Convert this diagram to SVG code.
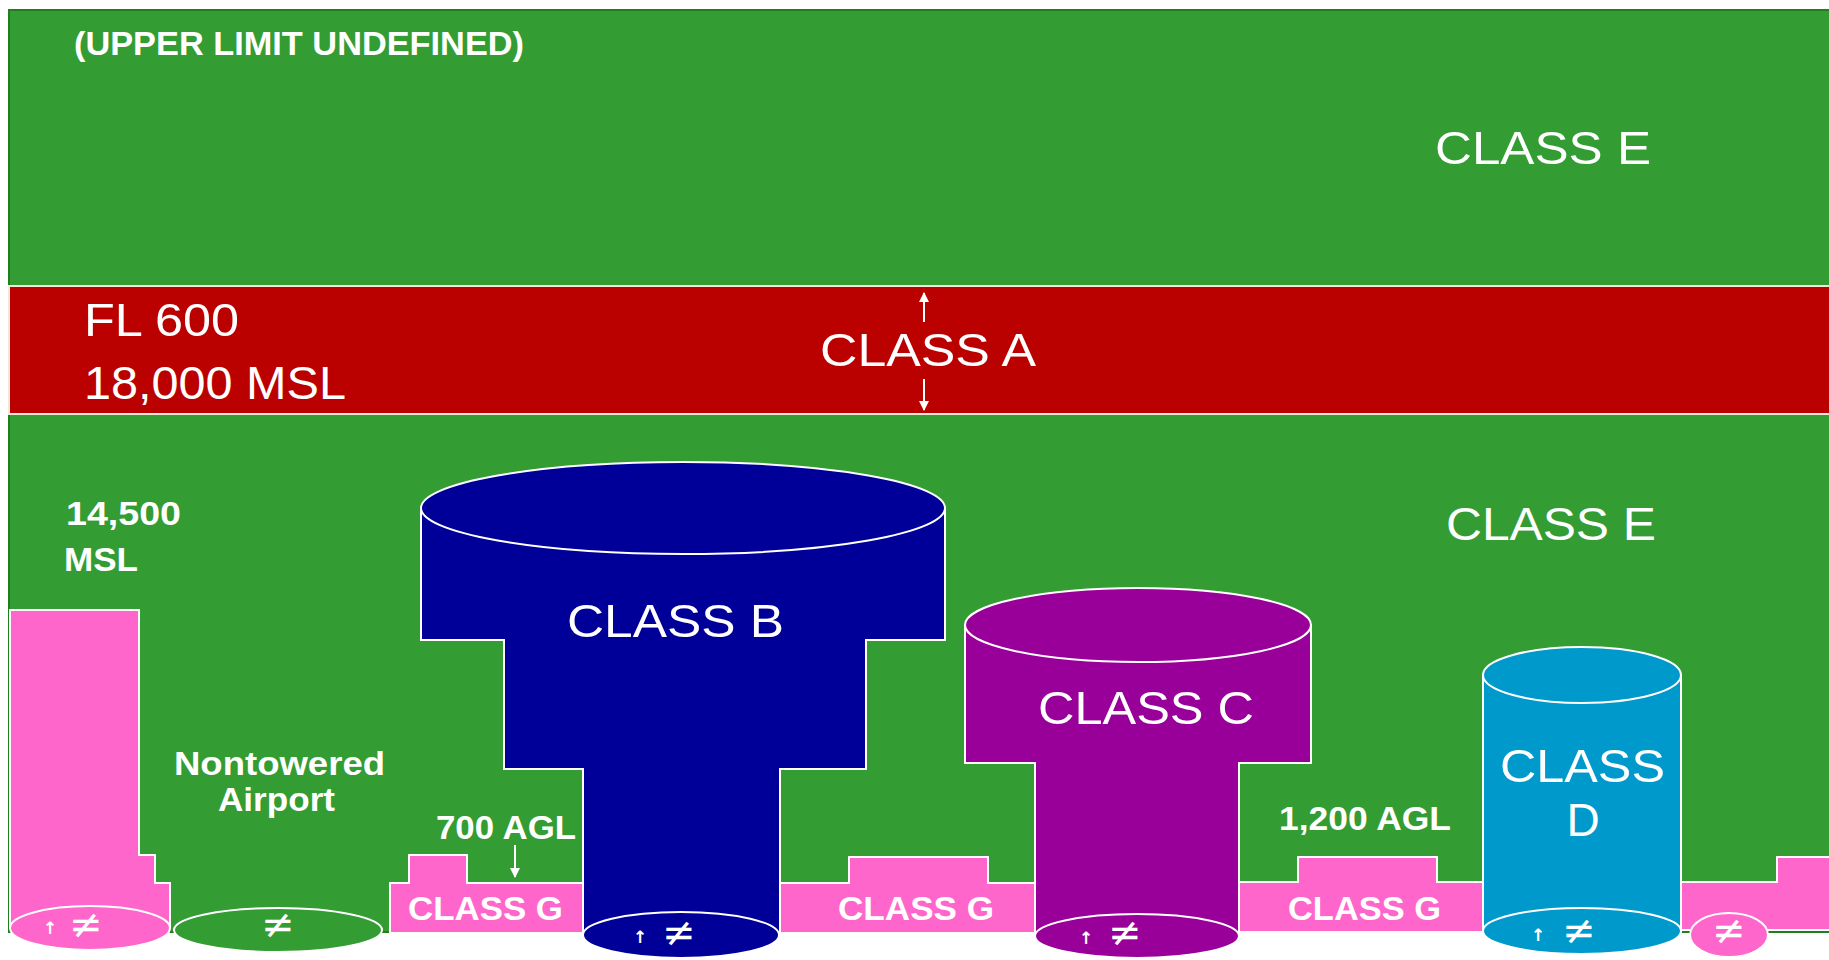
<svg xmlns="http://www.w3.org/2000/svg" width="1829" height="960" viewBox="0 0 1829 960">
<defs>
<style>
.ol{stroke:#ffffff;stroke-width:2;stroke-linejoin:miter}
.g{fill:#339c33}
.pk{fill:#ff66cc}
.nb{fill:#000099}
.pu{fill:#990099}
.bl{fill:#0099cc}
.w{fill:#ffffff;font-family:"Liberation Sans",Arial,sans-serif;font-size:46px}
.n{fill:#ffffff;font-family:"Liberation Sans Narrow","Liberation Sans",Arial,sans-serif;font-weight:bold;font-size:34px}
.sym{fill:#ffffff;font-family:"DejaVu Sans",sans-serif;font-size:40px;text-anchor:middle}
.arr{fill:#ffffff;font-family:"DejaVu Sans",sans-serif;font-weight:bold;font-size:17px;text-anchor:middle}
.ln{stroke:#ffffff;stroke-width:2;fill:none}
</style>
<marker id="ah" viewBox="0 0 10 10" refX="9" refY="5" markerWidth="5" markerHeight="5" orient="auto">
<path d="M0,0 L10,5 L0,10 z" fill="#ffffff"/>
</marker>
</defs>
<rect x="0" y="0" width="1829" height="960" fill="#ffffff"/>
<g id="classE-upper">
<rect x="9" y="10" width="1822" height="922" class="g" stroke="#1f7f1f" stroke-width="2"/>
<text class="n" x="74" y="55" font-size="36" textLength="450" lengthAdjust="spacingAndGlyphs">(UPPER LIMIT UNDEFINED)</text>
<text class="w" x="1435" y="164" textLength="216" lengthAdjust="spacingAndGlyphs">CLASS E</text>
</g>
<g id="classA">
<rect x="9" y="286" width="1822" height="128" fill="#bb0000" stroke="#f4e8d8" stroke-width="2"/>
<text class="w" x="84" y="336" font-size="48" textLength="155" lengthAdjust="spacingAndGlyphs">FL 600</text>
<text class="w" x="84" y="399" font-size="48" textLength="262" lengthAdjust="spacingAndGlyphs">18,000 MSL</text>
<text class="w" x="820" y="366" textLength="216" lengthAdjust="spacingAndGlyphs">CLASS A</text>
</g>
<g id="classE-lower">
<text class="w" x="1446" y="540" textLength="210" lengthAdjust="spacingAndGlyphs">CLASS E</text>
<text class="n" x="66" y="525" textLength="115" lengthAdjust="spacingAndGlyphs">14,500</text>
<text class="n" x="64" y="571" textLength="74" lengthAdjust="spacingAndGlyphs">MSL</text>
</g>
<g id="mountain-classG">
<path class="pk ol" d="M10,928 L10,610 L139,610 L139,855 L155,855 L155,883 L170,883 L170,928"/>
<ellipse class="pk ol" cx="90" cy="928" rx="80" ry="22"/>
<text class="arr" x="50" y="934">↑</text>
<text class="sym" x="86" y="938">≠</text>
</g>
<g id="nontowered-airport">
<ellipse class="g ol" cx="278" cy="930" rx="104" ry="22"/>
<text class="sym" x="278" y="938">≠</text>
<text class="n" x="174" y="775" font-size="31" textLength="211" lengthAdjust="spacingAndGlyphs">Nontowered</text>
<text class="n" x="218" y="811" font-size="31" textLength="117" lengthAdjust="spacingAndGlyphs">Airport</text>
</g>
<g id="classG-1">
<path class="pk ol" d="M390,933 L390,883 L409,883 L409,855 L467,855 L467,883 L583,883 L583,933 Z"/>
<text class="n" x="408" y="920" textLength="155" lengthAdjust="spacingAndGlyphs">CLASS G</text>
<text class="n" x="436" y="839" textLength="140" lengthAdjust="spacingAndGlyphs">700 AGL</text>
</g>
<g id="classG-2">
<path class="pk ol" d="M780,933 L780,883 L849,883 L849,857 L988,857 L988,883 L1035,883 L1035,933 Z"/>
<text class="n" x="838" y="920" textLength="156" lengthAdjust="spacingAndGlyphs">CLASS G</text>
</g>
<g id="classG-3">
<path class="pk ol" d="M1238,932 L1238,882 L1298,882 L1298,857 L1437,857 L1437,882 L1484,882 L1484,932 Z"/>
<text class="n" x="1288" y="920" textLength="153" lengthAdjust="spacingAndGlyphs">CLASS G</text>
<text class="n" x="1279" y="830" textLength="172" lengthAdjust="spacingAndGlyphs">1,200 AGL</text>
</g>
<g id="classG-4">
<path class="pk ol" d="M1681,930 L1681,882 L1777,882 L1777,857 L1832,857 L1832,930 Z"/>
<ellipse class="pk ol" cx="1729" cy="935" rx="39" ry="22"/>
<text class="sym" x="1729" y="944">≠</text>
</g>
<g id="classB">
<path class="nb ol" d="M421,508 L945,508 L945,640 L866,640 L866,769 L780,769 L780,935 L583,935 L583,769 L504,769 L504,640 L421,640 Z"/>
<ellipse class="nb ol" cx="683" cy="508" rx="262" ry="46"/>
<ellipse class="nb ol" cx="681" cy="935" rx="98" ry="23"/>
<text class="w" x="567" y="637" textLength="217" lengthAdjust="spacingAndGlyphs">CLASS B</text>
<text class="arr" x="640" y="943">↑</text>
<text class="sym" x="679" y="946">≠</text>
</g>
<g id="classC">
<path class="pu ol" d="M965,625 L1311,625 L1311,763 L1239,763 L1239,936 L1035,936 L1035,763 L965,763 Z"/>
<ellipse class="pu ol" cx="1138" cy="625" rx="173" ry="37"/>
<ellipse class="pu ol" cx="1137" cy="936" rx="102" ry="22"/>
<text class="w" x="1038" y="724" textLength="216" lengthAdjust="spacingAndGlyphs">CLASS C</text>
<text class="arr" x="1086" y="944">↑</text>
<text class="sym" x="1125" y="946">≠</text>
</g>
<g id="classD">
<path class="bl ol" d="M1483,675 L1681,675 L1681,931 L1483,931 Z"/>
<ellipse class="bl ol" cx="1582" cy="675" rx="99" ry="28"/>
<ellipse class="bl ol" cx="1582" cy="931" rx="99" ry="23"/>
<text class="w" x="1500" y="782" textLength="165" lengthAdjust="spacingAndGlyphs">CLASS</text>
<text class="w" x="1583" y="836" text-anchor="middle">D</text>
<text class="arr" x="1538" y="941">↑</text>
<text class="sym" x="1579" y="944">≠</text>
</g>
<g id="connectors">
<line class="ln" x1="924" y1="322" x2="924" y2="293" marker-end="url(#ah)"/>
<line class="ln" x1="924" y1="379" x2="924" y2="410" marker-end="url(#ah)"/>
<line class="ln" x1="515" y1="845" x2="515" y2="877" marker-end="url(#ah)"/>
</g>
</svg>
